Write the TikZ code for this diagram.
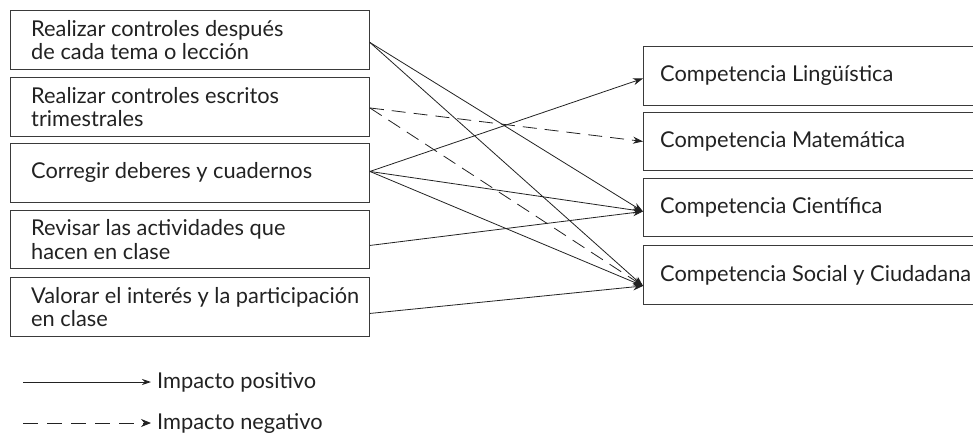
\documentclass[tikz,border=0pt]{standalone}
\usepackage{fontspec}
\setmainfont{Lato}
\usetikzlibrary{arrows.meta}
\definecolor{ink}{HTML}{222222}
\definecolor{edge}{HTML}{3A3A3A}
\begin{document}
\begin{tikzpicture}[x=1pt,y=-1pt,
  box/.style={draw=edge, line width=0.9pt, inner sep=0pt, anchor=north west},
  lbl/.style={anchor=west, align=left, inner sep=0pt, text=ink, font=\fontsize{21.8}{23.5}\selectfont},
  link/.style={draw=ink, line width=0.8pt, -{Stealth[length=10pt,width=7pt]}},
  neg/.style={link, dash pattern=on 14pt off 8pt}]
\useasboundingbox (0,0) rectangle (973,435);
\clip (0,0) rectangle (973,435);
% left boxes
\node[box, minimum width=359, minimum height=59] (b1) at (10,10) {};
\node[box, minimum width=359, minimum height=59] (b2) at (10,77) {};
\node[box, minimum width=359, minimum height=59] (b3) at (10,143) {};
\node[box, minimum width=359, minimum height=58] (b4) at (10,210) {};
\node[box, minimum width=359, minimum height=59] (b5) at (10,277) {};
\node[lbl] (t1) at ([xshift=21pt]b1.west) {Realizar controles después\\de cada tema o lección};
\node[lbl] (t2) at ([xshift=21pt]b2.west) {Realizar controles escritos\\trimestrales};
\node[lbl] (t3) at ([xshift=21pt]b3.west) {Corregir deberes y cuadernos};
\node[lbl] (t4) at ([xshift=21pt]b4.west) {Revisar las actividades que\\hacen en clase};
\node[lbl] (t5) at ([xshift=21pt]b5.west) {Valorar el interés y la participación\\en clase};
% right boxes
\node[box, minimum width=400, minimum height=59] (c1) at (643,46) {};
\node[box, minimum width=400, minimum height=58] (c2) at (643,112) {};
\node[box, minimum width=400, minimum height=58] (c3) at (643,178) {};
\node[box, minimum width=400, minimum height=59] (c4) at (643,245) {};
\node[lbl] (u1) at ([xshift=17pt]c1.west) {Competencia Lingüística};
\node[lbl] (u2) at ([xshift=17pt]c2.west) {Competencia Matemática};
\node[lbl] (u3) at ([xshift=17pt]c3.west) {Competencia Científica};
\node[lbl] (u4) at ([xshift=17pt]c4.west) {Competencia Social y Ciudadana};
% connectors
\draw[link] ([yshift=-2.5pt]b1.east) -- ([yshift=-4pt]c3.west);
\draw[link] ([yshift=-2.5pt]b1.east) -- ([yshift=-11pt]c4.west);
\draw[neg] ([yshift=-1pt]b2.east) -- (c2.west);
\draw[neg] ([yshift=-1pt]b2.east) -- ([yshift=-11pt]c4.west);
\draw[link] ([yshift=1.5pt]b3.east) -- ([yshift=-2.5pt]c1.west);
\draw[link] ([yshift=1.5pt]b3.east) -- ([yshift=-4pt]c3.west);
\draw[link] ([yshift=1.5pt]b3.east) -- ([yshift=-11pt]c4.west);
\draw[link] ([yshift=-6pt]b4.east) -- ([yshift=-4pt]c3.west);
\draw[link] ([yshift=-6.5pt]b5.east) -- ([yshift=-11pt]c4.west);
% legend
\coordinate (p1) at (23,382);
\coordinate (n1) at (23,423);
\node[lbl] (lp) at (157,382) {Impacto positivo};
\node[lbl] (ln) at (157,423) {Impacto negativo};
\draw[link, -{Stealth[length=9pt,width=6pt]}] (p1) -- ([xshift=-6pt]lp.west);
\draw[neg, dash pattern=on 15pt off 9pt, -{Stealth[length=10pt,width=8pt]}] (n1) -- ([xshift=-6pt]ln.west);
\end{tikzpicture}
\end{document}
